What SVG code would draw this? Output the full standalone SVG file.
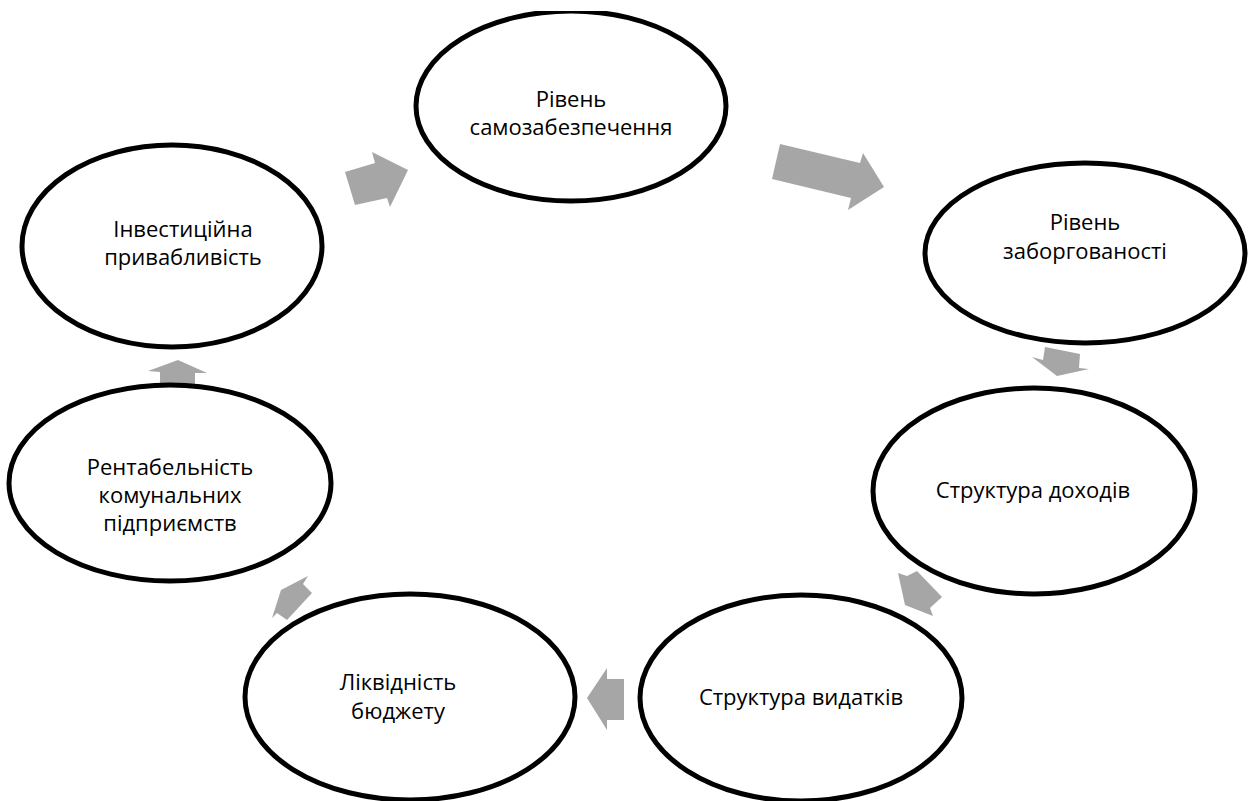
<svg xmlns="http://www.w3.org/2000/svg" width="1249" height="801" viewBox="0 0 1249 801">
<style>
.node ellipse{fill:#fff;stroke:#000;stroke-width:5}
.node text{font-family:"Open Sans","Noto Sans","Liberation Sans",sans-serif;font-size:22px;fill:#000;text-anchor:middle}
.arr polygon{fill:#a6a6a6;stroke:none}
</style>
<defs>
<clipPath id="topclip"><rect x="0" y="11" width="1249" height="790"/></clipPath>
</defs>
<rect width="1249" height="801" fill="#fff"/>
<g id="connectors" class="arr">
<polygon points="345,172 375,163 372,152 408,170 390,207 387,198 355,205"/>
<polygon points="780,144 860,163 863,153 884,187 848,210 851,198 772,179"/>
<polygon points="1045,347 1080,354 1079,368 1089,369 1057,376 1032,357 1043,360"/>
<polygon points="898,573 907,576 917,571 942,597 930,608 933,616 905,605"/>
<polygon points="587,698 607,668 607,679 624,679 624,720 607,720 607,730"/>
<polygon points="281,590 308,576 303,584 312,593 287,620 277,613 272,618"/>
<polygon points="178,360 207,373 195,373 195,385 160,384 160,372 148,371"/>
</g>
<g id="n1" class="node">
<ellipse cx="571" cy="106" rx="155" ry="95" clip-path="url(#topclip)"/>
<text x="571" y="107">Рівень</text>
<text x="571" y="135">самозабезпечення</text>
</g>
<g id="n2" class="node">
<ellipse cx="1085" cy="253" rx="160" ry="90"/>
<text x="1085" y="230">Рівень</text>
<text x="1085" y="259">заборгованості</text>
</g>
<g id="n3" class="node">
<ellipse cx="1034" cy="491" rx="161" ry="103"/>
<text x="1033" y="498">Структура доходів</text>
</g>
<g id="n4" class="node">
<ellipse cx="801" cy="698" rx="161" ry="103"/>
<text x="801" y="705">Структура видатків</text>
</g>
<g id="n5" class="node">
<ellipse cx="410" cy="697" rx="165" ry="103"/>
<text x="398" y="690">Ліквідність</text>
<text x="398" y="719">бюджету</text>
</g>
<g id="n6" class="node">
<ellipse cx="170" cy="483" rx="161" ry="98"/>
<text x="170" y="475">Рентабельність</text>
<text x="170" y="503">комунальних</text>
<text x="170" y="531">підприємств</text>
</g>
<g id="n7" class="node">
<ellipse cx="172" cy="246" rx="150" ry="101"/>
<text x="183" y="237">Інвестиційна</text>
<text x="183" y="265">привабливість</text>
</g>
</svg>
